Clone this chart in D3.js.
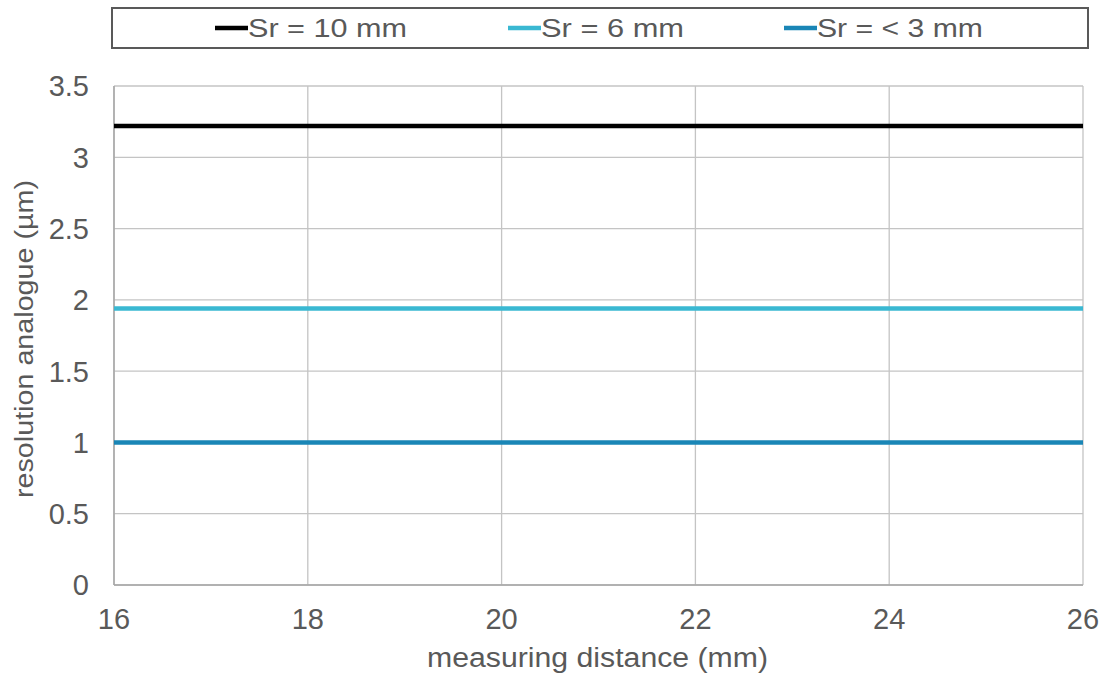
<!DOCTYPE html>
<html>
<head>
<meta charset="utf-8">
<script src="https://cdn.jsdelivr.net/npm/d3@7"></script>
<style>
  body { margin: 0; background: #fff; }
  svg text { font-family: "Liberation Sans", Arial, sans-serif; fill: #595959; }
</style>
</head>
<body>
<div id="chart"></div>
<script>
// data
const distances = [16, 18, 20, 22, 24, 26];
const seriesNames = ['Sr = 10 mm', 'Sr = 6 mm', 'Sr = < 3 mm'];
const seriesColors = ['#000000', '#3ab8d2', '#1a86b6'];
const sr10 = [3.22, 3.22, 3.22, 3.22, 3.22, 3.22];
const sr6 = [1.94, 1.94, 1.94, 1.94, 1.94, 1.94];
const sr3 = [1.0, 1.0, 1.0, 1.0, 1.0, 1.0];
const yTicks = [0, 0.5, 1, 1.5, 2, 2.5, 3, 3.5];

// layout
const width = 1115, height = 678;
const margin = { top: 86, right: 32, bottom: 93, left: 114 };
const legendX = [215, 508, 784];
const legendTextWidths = [159, 143, 166];

const svg = d3.select('#chart').append('svg')
  .attr('width', width)
  .attr('height', height);

const x = d3.scaleLinear().domain([16, 26]).range([margin.left, width - margin.right]);
const y = d3.scaleLinear().domain([0, 3.5]).range([height - margin.bottom, margin.top]);

// grid
svg.append('g')
  .selectAll('line')
  .data(yTicks)
  .join('line')
    .attr('x1', margin.left).attr('x2', width - margin.right)
    .attr('y1', d => y(d)).attr('y2', d => y(d))
    .attr('stroke', '#c4c4c4').attr('stroke-width', 1.3);

svg.append('g')
  .selectAll('line')
  .data(distances)
  .join('line')
    .attr('x1', d => x(d)).attr('x2', d => x(d))
    .attr('y1', margin.top).attr('y2', height - margin.bottom)
    .attr('stroke', '#c4c4c4').attr('stroke-width', 1.3);

// axis lines
svg.append('line')
  .attr('x1', margin.left).attr('x2', margin.left)
  .attr('y1', margin.top).attr('y2', height - margin.bottom)
  .attr('stroke', '#a6a6a6').attr('stroke-width', 1.5);
svg.append('line')
  .attr('x1', margin.left).attr('x2', width - margin.right)
  .attr('y1', height - margin.bottom).attr('y2', height - margin.bottom)
  .attr('stroke', '#a6a6a6').attr('stroke-width', 1.5);

// tick labels
svg.append('g')
  .selectAll('text')
  .data(yTicks)
  .join('text')
    .attr('x', margin.left - 25)
    .attr('y', d => y(d))
    .attr('dy', '0.36em')
    .attr('text-anchor', 'end')
    .style('font-size', '29px')
    .text(d => d);

svg.append('g')
  .selectAll('text')
  .data(distances)
  .join('text')
    .attr('x', d => x(d))
    .attr('y', height - margin.bottom + 44)
    .attr('text-anchor', 'middle')
    .style('font-size', '29px')
    .text(d => d);

// axis titles
svg.append('text')
  .attr('x', 427)
  .attr('y', 667)
  .attr('textLength', 341)
  .attr('lengthAdjust', 'spacingAndGlyphs')
  .style('font-size', '27px')
  .text('measuring distance (mm)');

svg.append('text')
  .attr('transform', 'translate(33, 498) rotate(-90)')
  .attr('textLength', 318)
  .attr('lengthAdjust', 'spacingAndGlyphs')
  .style('font-size', '26px')
  .text('resolution analogue (µm)');

// series
const series = [sr10, sr6, sr3];
const line = d3.line()
  .x((d, i) => x(distances[i]))
  .y(d => y(d));

svg.append('g')
  .selectAll('path')
  .data(series)
  .join('path')
    .attr('d', line)
    .attr('fill', 'none')
    .attr('stroke', (d, i) => seriesColors[i])
    .attr('stroke-width', 4.5);

// legend
svg.append('rect')
  .attr('x', 112).attr('y', 8)
  .attr('width', 976).attr('height', 40)
  .attr('fill', '#fff')
  .attr('stroke', '#595959').attr('stroke-width', 2);

const legend = svg.append('g')
  .selectAll('g')
  .data(seriesNames)
  .join('g')
    .attr('transform', (d, i) => `translate(${legendX[i]}, 28)`);

legend.append('line')
  .attr('x1', 0).attr('x2', 33)
  .attr('stroke', (d, i) => seriesColors[i])
  .attr('stroke-width', 4.5);

legend.append('text')
  .attr('x', 33)
  .attr('dy', '0.36em')
  .attr('textLength', (d, i) => legendTextWidths[i])
  .attr('lengthAdjust', 'spacingAndGlyphs')
  .style('font-size', '26px')
  .text(d => d);
</script>
</body>
</html>
